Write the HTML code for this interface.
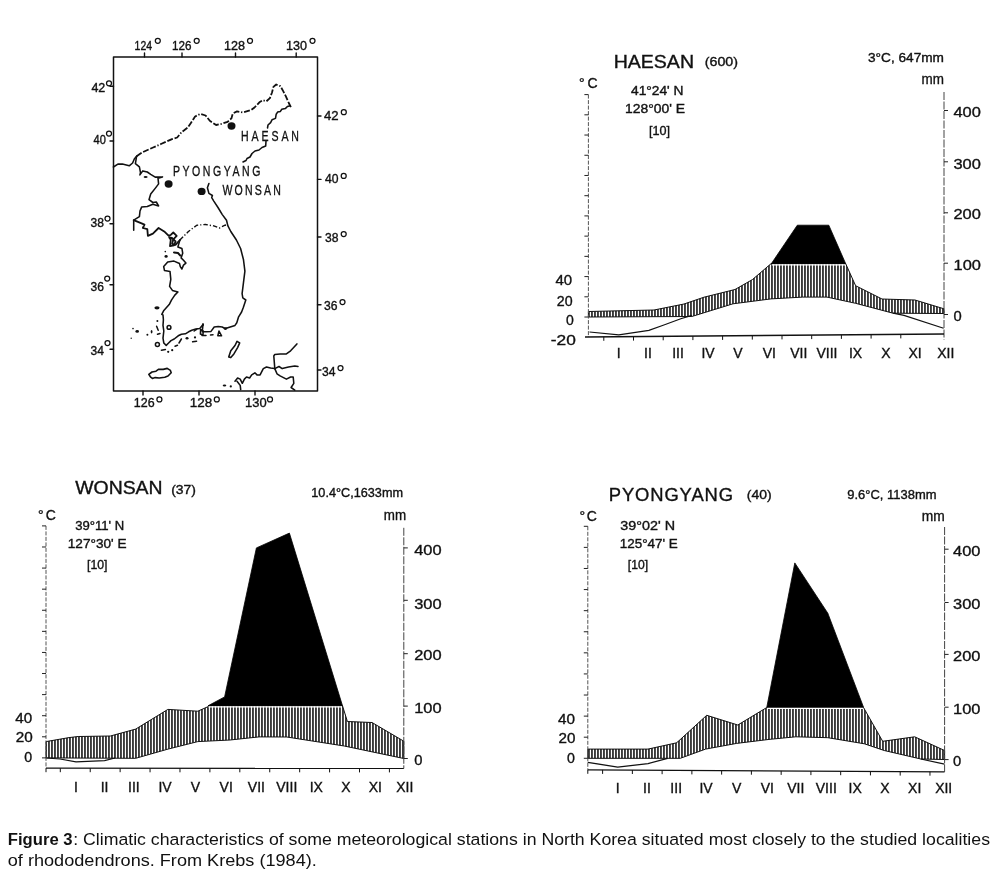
<!DOCTYPE html><html><head><meta charset="utf-8"><title>Figure 3</title><style>html,body{margin:0;padding:0;background:#fff;width:1000px;height:885px;overflow:hidden}svg{display:block;will-change:transform}text{font-family:"Liberation Sans",sans-serif;fill:#111}.ct text{stroke:#111;stroke-width:0.35px}</style></head><body>
<svg width="1000" height="885" viewBox="0 0 1000 885">
<defs><pattern id="hatch" patternUnits="userSpaceOnUse" width="3" height="10"><rect x="0" y="0" width="1.9" height="10" fill="#3a3a3a"/></pattern></defs>
<rect width="1000" height="885" fill="#fff"/>
<g id="map" fill="none" stroke="#111" stroke-width="1.4" stroke-linejoin="round" stroke-linecap="round">
<rect x="113.5" y="57" width="204" height="334" stroke-width="1.5"/>
<line x1="144.5" y1="53" x2="144.5" y2="57"/>
<line x1="182" y1="53" x2="182" y2="57"/>
<line x1="235.5" y1="53" x2="235.5" y2="57"/>
<line x1="296.2" y1="53" x2="296.2" y2="57"/>
<line x1="143" y1="391" x2="143" y2="395"/>
<line x1="199" y1="391" x2="199" y2="395"/>
<line x1="255" y1="391" x2="255" y2="395"/>
<line x1="110" y1="86.3" x2="113.5" y2="86.3"/>
<line x1="110" y1="141" x2="113.5" y2="141"/>
<line x1="110" y1="223.8" x2="113.5" y2="223.8"/>
<line x1="110" y1="284.8" x2="113.5" y2="284.8"/>
<line x1="110" y1="349.2" x2="113.5" y2="349.2"/>
<line x1="317.5" y1="116" x2="321" y2="116"/>
<line x1="317.5" y1="179.4" x2="321" y2="179.4"/>
<line x1="317.5" y1="237" x2="321" y2="237"/>
<line x1="317.5" y1="304.8" x2="321" y2="304.8"/>
<line x1="317.5" y1="370" x2="321" y2="370"/>
</g>
<g id="maplabels">
<text x="134.6" y="50" font-size="12" textLength="17.4" lengthAdjust="spacingAndGlyphs" stroke="#111" stroke-width="0.35">124</text>
<circle cx="157.8" cy="40.8" r="2.5" fill="none" stroke="#111" stroke-width="1.25"/>
<text x="172" y="50" font-size="12" textLength="19.5" lengthAdjust="spacingAndGlyphs" stroke="#111" stroke-width="0.35">126</text>
<circle cx="196.7" cy="40.8" r="2.5" fill="none" stroke="#111" stroke-width="1.25"/>
<text x="224" y="50" font-size="12" textLength="21" lengthAdjust="spacingAndGlyphs" stroke="#111" stroke-width="0.35">128</text>
<circle cx="250" cy="40.8" r="2.5" fill="none" stroke="#111" stroke-width="1.25"/>
<text x="286" y="50" font-size="12" textLength="21" lengthAdjust="spacingAndGlyphs" stroke="#111" stroke-width="0.35">130</text>
<circle cx="312.5" cy="40.8" r="2.5" fill="none" stroke="#111" stroke-width="1.25"/>
<text x="133.8" y="407" font-size="12" textLength="20.8" lengthAdjust="spacingAndGlyphs" stroke="#111" stroke-width="0.35">126</text>
<circle cx="159.4" cy="399.4" r="2.5" fill="none" stroke="#111" stroke-width="1.25"/>
<text x="189.8" y="407" font-size="12" textLength="22.4" lengthAdjust="spacingAndGlyphs" stroke="#111" stroke-width="0.35">128</text>
<circle cx="216.8" cy="399.4" r="2.5" fill="none" stroke="#111" stroke-width="1.25"/>
<text x="245" y="407" font-size="12" textLength="21.6" lengthAdjust="spacingAndGlyphs" stroke="#111" stroke-width="0.35">130</text>
<circle cx="270" cy="399.4" r="2.5" fill="none" stroke="#111" stroke-width="1.25"/>
<text x="91.4" y="91.5" font-size="12" textLength="13.9" lengthAdjust="spacingAndGlyphs" stroke="#111" stroke-width="0.35">42</text>
<circle cx="109" cy="83.3" r="2.5" fill="none" stroke="#111" stroke-width="1.25"/>
<text x="93.5" y="144" font-size="12" textLength="12.3" lengthAdjust="spacingAndGlyphs" stroke="#111" stroke-width="0.35">40</text>
<circle cx="109" cy="133.5" r="2.5" fill="none" stroke="#111" stroke-width="1.25"/>
<text x="90.6" y="226.7" font-size="12" textLength="13.4" lengthAdjust="spacingAndGlyphs" stroke="#111" stroke-width="0.35">38</text>
<circle cx="107.5" cy="218.5" r="2.5" fill="none" stroke="#111" stroke-width="1.25"/>
<text x="90.6" y="291" font-size="12" textLength="13.4" lengthAdjust="spacingAndGlyphs" stroke="#111" stroke-width="0.35">36</text>
<circle cx="107.2" cy="278.5" r="2.5" fill="none" stroke="#111" stroke-width="1.25"/>
<text x="90.6" y="355" font-size="12" textLength="13.4" lengthAdjust="spacingAndGlyphs" stroke="#111" stroke-width="0.35">34</text>
<circle cx="107.5" cy="343" r="2.5" fill="none" stroke="#111" stroke-width="1.25"/>
<text x="324" y="119.6" font-size="12" textLength="14.6" lengthAdjust="spacingAndGlyphs" stroke="#111" stroke-width="0.35">42</text>
<circle cx="343.8" cy="112.2" r="2.5" fill="none" stroke="#111" stroke-width="1.25"/>
<text x="325" y="183.3" font-size="12" textLength="13.5" lengthAdjust="spacingAndGlyphs" stroke="#111" stroke-width="0.35">40</text>
<circle cx="343.7" cy="175.9" r="2.5" fill="none" stroke="#111" stroke-width="1.25"/>
<text x="325" y="242" font-size="12" textLength="13.5" lengthAdjust="spacingAndGlyphs" stroke="#111" stroke-width="0.35">38</text>
<circle cx="343.7" cy="234" r="2.5" fill="none" stroke="#111" stroke-width="1.25"/>
<text x="324" y="309.6" font-size="12" textLength="13.5" lengthAdjust="spacingAndGlyphs" stroke="#111" stroke-width="0.35">36</text>
<circle cx="342.5" cy="302" r="2.5" fill="none" stroke="#111" stroke-width="1.25"/>
<text x="322" y="376" font-size="12" textLength="13.5" lengthAdjust="spacingAndGlyphs" stroke="#111" stroke-width="0.35">34</text>
<circle cx="340.5" cy="368" r="2.5" fill="none" stroke="#111" stroke-width="1.25"/>
</g>
<g id="mapnames" fill="#111">
<text transform="translate(241,141) scale(0.8,1.05)" x="0" y="0" font-size="13.2" textLength="72.5" lengthAdjust="spacing" stroke="#111" stroke-width="0.3">HAESAN</text>
<text transform="translate(173,176) scale(0.8,1.05)" x="0" y="0" font-size="13.2" textLength="109.2" lengthAdjust="spacing" stroke="#111" stroke-width="0.3">PYONGYANG</text>
<text transform="translate(222.4,194.6) scale(0.8,1.05)" x="0" y="0" font-size="13.2" textLength="73.2" lengthAdjust="spacing" stroke="#111" stroke-width="0.3">WONSAN</text>
</g>
<g fill="#111">
<ellipse cx="231.5" cy="126" rx="4" ry="3.7"/>
<ellipse cx="168.6" cy="184" rx="4" ry="3.7"/>
<ellipse cx="201.6" cy="191.4" rx="4" ry="3.7"/>
</g>
<g fill="none" stroke="#111" stroke-width="1.55" stroke-linejoin="round" stroke-linecap="round">
<path d="M113.4,167 L117.9,164.1 L122.4,164.1 L129.2,165.8 L132.6,163 L134.3,159 L136.6,156.2"/>
<path d="M136.6,156.2 L142.6,152.2 L153.1,147.5 L161.5,143.8 L172,139.1 L177.2,137.5 L181.4,132.3 L187.7,127.6 L190.9,122.9 L195.1,116.5 L200.3,113.9 L205.6,115.5 L209.8,120.8 L216.1,125 L221.3,123.9 L227.6,121.8 L231.4,118.4 L232.8,113.5 L237,111.4 L242.6,112.5 L251,110 L254.5,107.5 L259.4,102.3 L262.9,100.2 L266.4,101.3 L269.9,98.1 L272,92.5 L273.4,86.9 L276.2,84.5 L280.4,86.2 L283.2,91.1 L286,96.7 L288.8,103 L290.9,107.2" stroke-dasharray="6 1.8 6 1.8 6 1.8 1.3 1.8" stroke-width="1.8" stroke-linecap="butt"/>
<path d="M290.2,105.8 L287.4,106.5 L285.3,108.6 L281.8,109.3 L280.4,111.4 L277.6,112.1 L276.2,114.2 L275.5,118.4 L272,119.8 L270.6,122.6 L268,125 L267.5,128"/>
<path d="M266,141 L265.7,146 L262,147.5 L259,150 L255,151 L252,153.5 L250,157 L247,158.5 L246,160.5 L243,162"/>
<path d="M136.6,156.2 L135.4,163.6 L139.4,166.9 L140.5,172.6 L139.9,174.9 L142.8,170.9 L147.3,172 L150.7,174.3 L155.2,177.1 L159.7,177.1 L162.5,176.9 L158,178.2 L158.6,183.9 L155.2,188.4 L150.7,194.1 L149,199.7 L152.9,202.5 L156.3,202 L158.6,205.9 L152.9,204.2 L147.3,206.5 L141.6,207.1 L140,211 L139.4,216.7 L133.7,220.1 L133.7,230.2"/>
<path d="M133.7,220.1 L141.6,223.4 L144.5,224.6 L142.8,228 L147.3,229.1 L147.9,235.9 L152.9,233.6 L158.6,228 L164.2,231.4 L168.8,235.9 L171,234.7 L173.3,232.5 L176.7,235.9 L173.3,239.3 L172.1,243.8 L175.5,244.9 L179.9,240" stroke-width="1.8"/>
<path d="M179.9,240 L188.4,231.5 L196.8,225.2 L205.3,224.5 L213.8,225.9 L219.4,228 L225.1,225.2 L227.9,224.5" stroke-dasharray="4.5 2 1.2 2" stroke-linecap="butt" stroke-width="1.4"/>
<path d="M179.9,240 L177.9,246.9 L181.9,248.4 L182.7,253.2 L181.1,257.9 L183.5,260.3 L185.9,263.1 L183.5,265.1 L181.9,269 L180.3,266.6 L179.5,263.5 L174,261.1 L167.7,261.9 L163.7,266.6 L164.5,270.6 L170,271.4 L170.8,279.3 L169.6,286.4 L172.4,290.4 L177.9,292 L174.8,295.1 L171.6,299.9 L169.2,304.6 L163.6,310.8 L161.8,314.4 L163,315 L163.4,319.8 L163,325.4 L163.8,331 L163,338.2 L163.8,343 L166.2,345.4 L168.6,343 L171,340.6 L174.2,339 L178.2,335.8 L181.4,334.2 L185.4,333.8 L188.6,331.8 L191.8,330.2 L195.8,329 L199.8,328.6 L203,324.6 L202.2,331.8 L206.2,331.8 L211,331.4 L214.2,327 L218.2,326.6 L222.2,327 L225.4,328.6 L230.2,327 L235,325.4 L236.8,322.8 L238.6,316.8 L241.6,312 L243.4,307.2 L245.8,300 L242.8,297.9 L242.1,293.7 L243.5,282.4 L244.9,271.1 L243.5,259.8 L240.6,248.5 L236.4,240 L230.8,231.5 L227.9,225.9 L226.5,220.2 L222.3,214.6 L218,207.5 L213.8,201.1 L211.7,197.6 L212.4,195.5 L208.9,193.4 L207.4,187.7 L208.9,183.5"/>
<path d="M169.2,237.4 L170.8,239.7 L170,246.1 L174,245.3 L175.6,241.3 L172,238 Z" stroke-width="1.8"/>
<path d="M174,252.4 L178,253 L180.3,255.6" stroke-width="2"/>
<path d="M148.8,374.4 L152,372 L156,371.2 L158.8,369.2 L163.2,369.4 L167.2,368.4 L170.4,370.4 L171.2,372.8 L168,376 L164.8,377.2 L159.2,378 L155.2,377.6 L152.4,378.4 L150.4,376.8 Z" stroke-width="1.6"/>
<path d="M228.7,357 L230.8,350.8 L235,345.5 L237,341.3 L239.7,342.9 L237.6,347.6 L233.9,353.9 L230.8,357.6 Z"/>
<g stroke-width="1.5"><circle cx="157.4" cy="344.6" r="2"/><path d="M219,331 L221.6,335.8 L217.8,335.8 Z"/><path d="M200.6,329.4 L203.2,331 L203,335 L200.4,334 Z"/><circle cx="169" cy="327.4" r="1.9"/><path d="M161.4,350.2 L165.4,349.6 M175,346.2 L177.5,345.2 M179,343 L181.4,339 M192.6,341.8 L196.6,341.2 M202,335.4 L206,335.4 M210.5,335 L213,334.8 M194.2,331 L196.6,329.4 M156.6,326.2 L158.2,330.2 M157.5,334.2 L160,333.5"/></g>
<path d="M235,381.2 L237.6,378 L240.2,379.1 L242.3,383.3 L244.4,379.1 L246.5,377 L249.6,378 L251.7,374.9 L254.9,372.8 L257,374.9 L260.1,374.9 L263.3,368.6 L266.5,367 L270.6,368.1 L274.8,368.6 L279,366.5 L282.2,368.6 L288.5,367 L294.8,366 L298,366.5"/>
<path d="M274.8,368.6 L273.8,356 L274.8,354.4 L280.1,353.9 L286.4,353.9 L290.6,350.8 L296.9,343.9"/>
<path d="M274.8,368.6 L277,373.8 L280.1,375.9 L286.4,379.1 L290.6,377 L293.2,377 L293.8,383.3 L291.1,387.5 L294.8,390.1"/>
<path d="M237,381.2 L240.2,385.4 L240.7,389.6"/>
</g>
<g fill="#111">
<ellipse cx="145.6" cy="176.9" rx="2" ry="1"/>
<ellipse cx="166.1" cy="256.4" rx="1.6" ry="1.4"/>
<ellipse cx="165.3" cy="251.6" rx="0.8" ry="0.8"/>
<ellipse cx="157" cy="307.8" rx="2.6" ry="1.6"/>
<ellipse cx="137.2" cy="331.4" rx="1.8" ry="1.3"/>
<ellipse cx="133" cy="328.6" rx="0.8" ry="0.8"/>
<ellipse cx="131.2" cy="338.2" rx="0.7" ry="0.7"/>
<ellipse cx="147.4" cy="334.8" rx="1" ry="1"/>
<ellipse cx="151.6" cy="331.8" rx="0.9" ry="1.8"/>
<ellipse cx="157.4" cy="321" rx="1" ry="1"/>
<ellipse cx="168.2" cy="351.8" rx="1.1" ry="1.1"/>
<ellipse cx="172.2" cy="350.2" rx="1.1" ry="1.1"/>
<ellipse cx="187" cy="338.2" rx="1.5" ry="1.3"/>
<ellipse cx="195" cy="337.4" rx="1.1" ry="1.1"/>
<ellipse cx="225.4" cy="328.6" rx="1.8" ry="1.4"/>
<ellipse cx="224.5" cy="385.4" rx="1.8" ry="1"/>
<ellipse cx="230.8" cy="386.4" rx="1.1" ry="1.1"/>
<ellipse cx="203" cy="324.6" rx="1" ry="1.5"/>
</g>
<g id="haesan">
<polygon points="588.4,311.5 654,310 684,304 704,297.2 735,289.5 752.4,279.6 771,263.7 845.7,263.7 855.6,285.7 882,299 915,300 944,308.8 944,313.5 893,313.2 855.6,303.3 827,297.1 802.8,297.1 771,298.9 733,303.8 691.8,316.5 588.4,317" fill="url(#hatch)" stroke="#111" stroke-width="1"/>
<polygon points="771.3,263.7 797.3,225.2 828.8,225.2 845.7,263.7" fill="#000" stroke="#000" stroke-width="0.8"/>
<line x1="771.8" y1="264.8" x2="845.2" y2="264.8" stroke="#fff" stroke-width="1.3"/>
<polyline points="589.5,332 618.8,334.8 648.9,330.4 663.2,325.3 680.8,318.7 691.8,315.4" fill="none" stroke="#111" stroke-width="1.2"/>
<polyline points="893,313.2 904,315.4 943.6,328.2" fill="none" stroke="#111" stroke-width="1.2"/>
<line x1="588.4" y1="94.6" x2="588.4" y2="337" stroke="#555" stroke-width="1" stroke-dasharray="4 1.5"/>
<line x1="584.4" y1="94.6" x2="588.4" y2="94.6" stroke="#222" stroke-width="1"/>
<line x1="584.4" y1="114.82" x2="588.4" y2="114.82" stroke="#222" stroke-width="1"/>
<line x1="584.4" y1="135.04" x2="588.4" y2="135.04" stroke="#222" stroke-width="1"/>
<line x1="584.4" y1="155.26" x2="588.4" y2="155.26" stroke="#222" stroke-width="1"/>
<line x1="584.4" y1="175.48" x2="588.4" y2="175.48" stroke="#222" stroke-width="1"/>
<line x1="584.4" y1="195.7" x2="588.4" y2="195.7" stroke="#222" stroke-width="1"/>
<line x1="584.4" y1="215.92" x2="588.4" y2="215.92" stroke="#222" stroke-width="1"/>
<line x1="584.4" y1="236.14" x2="588.4" y2="236.14" stroke="#222" stroke-width="1"/>
<line x1="584.4" y1="256.36" x2="588.4" y2="256.36" stroke="#222" stroke-width="1"/>
<line x1="584.4" y1="276.58" x2="588.4" y2="276.58" stroke="#222" stroke-width="1"/>
<line x1="584.4" y1="296.79999999999995" x2="588.4" y2="296.79999999999995" stroke="#222" stroke-width="1"/>
<line x1="584.4" y1="317.02" x2="588.4" y2="317.02" stroke="#222" stroke-width="1"/>
<line x1="944" y1="92" x2="944" y2="339.5" stroke="#444" stroke-width="1" stroke-dasharray="8 1.5"/>
<line x1="944" y1="110.5" x2="948" y2="110.5" stroke="#222" stroke-width="1"/>
<line x1="944" y1="161.8" x2="948" y2="161.8" stroke="#222" stroke-width="1"/>
<line x1="944" y1="212.8" x2="948" y2="212.8" stroke="#222" stroke-width="1"/>
<line x1="944" y1="263.2" x2="948" y2="263.2" stroke="#222" stroke-width="1"/>
<line x1="944" y1="314.5" x2="948" y2="314.5" stroke="#222" stroke-width="1"/>
<line x1="585" y1="337" x2="944" y2="334" stroke="#111" stroke-width="1.3"/>
<line x1="603.8" y1="336.8" x2="603.8" y2="340.8" stroke="#111" stroke-width="1"/>
<line x1="633.5" y1="336.6" x2="633.5" y2="340.6" stroke="#111" stroke-width="1"/>
<line x1="663.1999999999999" y1="336.3" x2="663.1999999999999" y2="340.3" stroke="#111" stroke-width="1"/>
<line x1="692.9" y1="336.1" x2="692.9" y2="340.1" stroke="#111" stroke-width="1"/>
<line x1="722.5999999999999" y1="335.9" x2="722.5999999999999" y2="339.9" stroke="#111" stroke-width="1"/>
<line x1="752.3" y1="335.6" x2="752.3" y2="339.6" stroke="#111" stroke-width="1"/>
<line x1="782.0" y1="335.4" x2="782.0" y2="339.4" stroke="#111" stroke-width="1"/>
<line x1="811.6999999999999" y1="335.1" x2="811.6999999999999" y2="339.1" stroke="#111" stroke-width="1"/>
<line x1="841.4" y1="334.9" x2="841.4" y2="338.9" stroke="#111" stroke-width="1"/>
<line x1="871.0999999999999" y1="334.6" x2="871.0999999999999" y2="338.6" stroke="#111" stroke-width="1"/>
<line x1="900.8" y1="334.4" x2="900.8" y2="338.4" stroke="#111" stroke-width="1"/>
</g>
<g class="ct">
<text x="613.7" y="67.5" font-size="17.5" textLength="80.3" lengthAdjust="spacingAndGlyphs" >HAESAN</text>
<text x="704.75" y="66" font-size="12.5" textLength="33.25" lengthAdjust="spacingAndGlyphs" >(600)</text>
<text x="868" y="62.4" font-size="12" textLength="76" lengthAdjust="spacingAndGlyphs" >3°C, 647mm</text>
<text x="921.6" y="84" font-size="14" textLength="22.4" lengthAdjust="spacingAndGlyphs" >mm</text>
<text x="579" y="88.4" font-size="14" textLength="18.6" lengthAdjust="spacing" >°C</text>
<text x="631" y="95" font-size="12" textLength="52.5" lengthAdjust="spacingAndGlyphs" >41°24' N</text>
<text x="625" y="112.6" font-size="12" textLength="60" lengthAdjust="spacingAndGlyphs" >128°00' E</text>
<text x="649" y="134.5" font-size="12" textLength="21" lengthAdjust="spacingAndGlyphs" >[10]</text>
<text x="555.4" y="285.3" font-size="14" textLength="16.7" lengthAdjust="spacingAndGlyphs" >40</text>
<text x="556.8" y="305.7" font-size="14" textLength="15.8" lengthAdjust="spacingAndGlyphs" >20</text>
<text x="566" y="324.6" font-size="14" textLength="7.8" lengthAdjust="spacingAndGlyphs" >0</text>
<text x="550.8" y="344.9" font-size="14" textLength="25.0" lengthAdjust="spacingAndGlyphs" >-20</text>
<text x="953.4" y="117.4" font-size="14.3" textLength="27.4" lengthAdjust="spacingAndGlyphs" >400</text>
<text x="953.4" y="168.5" font-size="14.3" textLength="27.4" lengthAdjust="spacingAndGlyphs" >300</text>
<text x="953.4" y="219.4" font-size="14.3" textLength="27.4" lengthAdjust="spacingAndGlyphs" >200</text>
<text x="953.6" y="269.9" font-size="14.3" textLength="27.4" lengthAdjust="spacingAndGlyphs" >100</text>
<text x="953.4" y="321.2" font-size="14.3" textLength="8.2" lengthAdjust="spacingAndGlyphs" >0</text>
<text x="618.8" y="358" font-size="14" text-anchor="middle" >I</text>
<text x="648" y="358" font-size="14" text-anchor="middle" >II</text>
<text x="678" y="358" font-size="14" text-anchor="middle" >III</text>
<text x="708" y="358" font-size="14" text-anchor="middle" >IV</text>
<text x="738" y="358" font-size="14" text-anchor="middle" >V</text>
<text x="769.4" y="358" font-size="14" text-anchor="middle" >VI</text>
<text x="798.8" y="358" font-size="14" text-anchor="middle" >VII</text>
<text x="827" y="358" font-size="14" text-anchor="middle" >VIII</text>
<text x="855.6" y="358" font-size="14" text-anchor="middle" >IX</text>
<text x="886" y="358" font-size="14" text-anchor="middle" >X</text>
<text x="915" y="358" font-size="14" text-anchor="middle" >XI</text>
<text x="945.8" y="358" font-size="14" text-anchor="middle" >XII</text>
</g>
<g id="wonsan">
<polygon points="46,741.6 69,737.6 78.2,736.5 110.4,736 135.7,729.1 167.9,709.4 197.8,711.2 210.4,705.6 342.5,705.8 347.4,721.5 372,722.5 403.8,741.2 403.8,758.5 344.2,746 286.8,737 259,736.9 230,740 197.8,741.6 168,749.1 135.7,758.3 46,757.9" fill="url(#hatch)" stroke="#111" stroke-width="1"/>
<polygon points="208,705.8 224.6,696.9 256.4,547.9 289.4,533.1 342.5,705.8" fill="#000" stroke="#000" stroke-width="0.8"/>
<line x1="208.5" y1="706.9" x2="342.0" y2="706.9" stroke="#fff" stroke-width="1.3"/>
<polyline points="46,758 60,759 76,761.8 104.6,760.6 115,758" fill="none" stroke="#111" stroke-width="1.2"/>
<line x1="46" y1="525.9" x2="46" y2="768.2" stroke="#555" stroke-width="1" stroke-dasharray="4 1.5"/>
<line x1="42" y1="525.9" x2="46" y2="525.9" stroke="#222" stroke-width="1"/>
<line x1="42" y1="546.99" x2="46" y2="546.99" stroke="#222" stroke-width="1"/>
<line x1="42" y1="568.0799999999999" x2="46" y2="568.0799999999999" stroke="#222" stroke-width="1"/>
<line x1="42" y1="589.17" x2="46" y2="589.17" stroke="#222" stroke-width="1"/>
<line x1="42" y1="610.26" x2="46" y2="610.26" stroke="#222" stroke-width="1"/>
<line x1="42" y1="631.35" x2="46" y2="631.35" stroke="#222" stroke-width="1"/>
<line x1="42" y1="652.4399999999999" x2="46" y2="652.4399999999999" stroke="#222" stroke-width="1"/>
<line x1="42" y1="673.53" x2="46" y2="673.53" stroke="#222" stroke-width="1"/>
<line x1="42" y1="694.62" x2="46" y2="694.62" stroke="#222" stroke-width="1"/>
<line x1="42" y1="715.71" x2="46" y2="715.71" stroke="#222" stroke-width="1"/>
<line x1="42" y1="736.8" x2="46" y2="736.8" stroke="#222" stroke-width="1"/>
<line x1="42" y1="757.89" x2="46" y2="757.89" stroke="#222" stroke-width="1"/>
<line x1="403.8" y1="527.8" x2="403.8" y2="768.4" stroke="#444" stroke-width="1" stroke-dasharray="8 1.5"/>
<line x1="403.8" y1="547.9" x2="407.8" y2="547.9" stroke="#222" stroke-width="1"/>
<line x1="403.8" y1="600.3" x2="407.8" y2="600.3" stroke="#222" stroke-width="1"/>
<line x1="403.8" y1="653.7" x2="407.8" y2="653.7" stroke="#222" stroke-width="1"/>
<line x1="403.8" y1="706.1" x2="407.8" y2="706.1" stroke="#222" stroke-width="1"/>
<line x1="403.8" y1="758.5" x2="407.8" y2="758.5" stroke="#222" stroke-width="1"/>
<line x1="46" y1="768.2" x2="403.8" y2="768.4" stroke="#111" stroke-width="1.3"/>
<line x1="46" y1="768.2" x2="46" y2="772.2" stroke="#111" stroke-width="1"/>
<line x1="60.3" y1="768.2" x2="60.3" y2="772.2" stroke="#111" stroke-width="1"/>
<line x1="90.22" y1="768.2" x2="90.22" y2="772.2" stroke="#111" stroke-width="1"/>
<line x1="120.14" y1="768.2" x2="120.14" y2="772.2" stroke="#111" stroke-width="1"/>
<line x1="150.06" y1="768.3" x2="150.06" y2="772.3" stroke="#111" stroke-width="1"/>
<line x1="179.98000000000002" y1="768.3" x2="179.98000000000002" y2="772.3" stroke="#111" stroke-width="1"/>
<line x1="209.90000000000003" y1="768.3" x2="209.90000000000003" y2="772.3" stroke="#111" stroke-width="1"/>
<line x1="239.82" y1="768.3" x2="239.82" y2="772.3" stroke="#111" stroke-width="1"/>
<line x1="269.74" y1="768.3" x2="269.74" y2="772.3" stroke="#111" stroke-width="1"/>
<line x1="299.66" y1="768.3" x2="299.66" y2="772.3" stroke="#111" stroke-width="1"/>
<line x1="329.58000000000004" y1="768.4" x2="329.58000000000004" y2="772.4" stroke="#111" stroke-width="1"/>
<line x1="359.50000000000006" y1="768.4" x2="359.50000000000006" y2="772.4" stroke="#111" stroke-width="1"/>
<line x1="389.42" y1="768.4" x2="389.42" y2="772.4" stroke="#111" stroke-width="1"/>
</g>
<g class="ct">
<text x="75.2" y="493.7" font-size="18" textLength="87.4" lengthAdjust="spacingAndGlyphs" >WONSAN</text>
<text x="171.2" y="494.4" font-size="12" textLength="24.8" lengthAdjust="spacingAndGlyphs" >(37)</text>
<text x="311.3" y="496.9" font-size="12" textLength="91.7" lengthAdjust="spacingAndGlyphs" >10.4°C,1633mm</text>
<text x="383.8" y="520.2" font-size="14" textLength="22.3" lengthAdjust="spacingAndGlyphs" >mm</text>
<text x="38" y="520" font-size="14" textLength="17.9" lengthAdjust="spacing" >°C</text>
<text x="75.2" y="529.8" font-size="12" textLength="49" lengthAdjust="spacingAndGlyphs" >39°11' N</text>
<text x="67.8" y="548.2" font-size="12" textLength="58.7" lengthAdjust="spacingAndGlyphs" >127°30' E</text>
<text x="87" y="568.5" font-size="12" textLength="20.4" lengthAdjust="spacingAndGlyphs" >[10]</text>
<text x="15.2" y="723.2" font-size="14" textLength="16.9" lengthAdjust="spacingAndGlyphs" >40</text>
<text x="15.7" y="741.8" font-size="14" textLength="17.0" lengthAdjust="spacingAndGlyphs" >20</text>
<text x="24.2" y="761.9" font-size="14" textLength="7.9" lengthAdjust="spacingAndGlyphs" >0</text>
<text x="414.2" y="555.1" font-size="14.3" textLength="27.4" lengthAdjust="spacingAndGlyphs" >400</text>
<text x="414.2" y="608.9" font-size="14.3" textLength="27.4" lengthAdjust="spacingAndGlyphs" >300</text>
<text x="414.2" y="660.4" font-size="14.3" textLength="27.4" lengthAdjust="spacingAndGlyphs" >200</text>
<text x="414.2" y="712.8" font-size="14.3" textLength="27.4" lengthAdjust="spacingAndGlyphs" >100</text>
<text x="414.2" y="765.2" font-size="14.3" textLength="8.2" lengthAdjust="spacingAndGlyphs" >0</text>
<text x="75.9" y="791.5" font-size="14" text-anchor="middle" >I</text>
<text x="104.6" y="791.5" font-size="14" text-anchor="middle" >II</text>
<text x="133.9" y="791.5" font-size="14" text-anchor="middle" >III</text>
<text x="165.1" y="791.5" font-size="14" text-anchor="middle" >IV</text>
<text x="195.5" y="791.5" font-size="14" text-anchor="middle" >V</text>
<text x="226.2" y="791.5" font-size="14" text-anchor="middle" >VI</text>
<text x="256.4" y="791.5" font-size="14" text-anchor="middle" >VII</text>
<text x="286.8" y="791.5" font-size="14" text-anchor="middle" >VIII</text>
<text x="316.3" y="791.5" font-size="14" text-anchor="middle" >IX</text>
<text x="345.8" y="791.5" font-size="14" text-anchor="middle" >X</text>
<text x="375.3" y="791.5" font-size="14" text-anchor="middle" >XI</text>
<text x="404.8" y="791.5" font-size="14" text-anchor="middle" >XII</text>
</g>
<g id="pyong">
<polygon points="587.8,749.1 648,749.1 676.2,742.9 678,741.6 706.7,715.3 737.8,725 766.8,707.5 863.5,707.5 882.7,741.3 914.7,736.8 944.6,750.5 944.6,759.5 920.8,759 884.2,750.5 864.4,743.8 827.8,737.7 795.8,736.8 770,739.3 736.6,743.4 705.6,749.1 680.3,758.3 587.8,758.3" fill="url(#hatch)" stroke="#111" stroke-width="1"/>
<polygon points="766.8,707.2 794.8,562.9 827.8,613.2 863.5,707.2" fill="#000" stroke="#000" stroke-width="0.8"/>
<line x1="767.3" y1="708.3000000000001" x2="863.0" y2="708.3000000000001" stroke="#fff" stroke-width="1.3"/>
<polyline points="587.8,762.3 617.7,767.1 648,763.6 667.6,758.3" fill="none" stroke="#111" stroke-width="1.2"/>
<polyline points="920.8,759 944.6,764.2" fill="none" stroke="#111" stroke-width="1.2"/>
<line x1="587.8" y1="526.3" x2="587.8" y2="769.8" stroke="#555" stroke-width="1" stroke-dasharray="4 1.5"/>
<line x1="583.8" y1="526.3" x2="587.8" y2="526.3" stroke="#222" stroke-width="1"/>
<line x1="583.8" y1="547.39" x2="587.8" y2="547.39" stroke="#222" stroke-width="1"/>
<line x1="583.8" y1="568.4799999999999" x2="587.8" y2="568.4799999999999" stroke="#222" stroke-width="1"/>
<line x1="583.8" y1="589.5699999999999" x2="587.8" y2="589.5699999999999" stroke="#222" stroke-width="1"/>
<line x1="583.8" y1="610.66" x2="587.8" y2="610.66" stroke="#222" stroke-width="1"/>
<line x1="583.8" y1="631.75" x2="587.8" y2="631.75" stroke="#222" stroke-width="1"/>
<line x1="583.8" y1="652.8399999999999" x2="587.8" y2="652.8399999999999" stroke="#222" stroke-width="1"/>
<line x1="583.8" y1="673.93" x2="587.8" y2="673.93" stroke="#222" stroke-width="1"/>
<line x1="583.8" y1="695.02" x2="587.8" y2="695.02" stroke="#222" stroke-width="1"/>
<line x1="583.8" y1="716.1099999999999" x2="587.8" y2="716.1099999999999" stroke="#222" stroke-width="1"/>
<line x1="583.8" y1="737.1999999999999" x2="587.8" y2="737.1999999999999" stroke="#222" stroke-width="1"/>
<line x1="583.8" y1="758.29" x2="587.8" y2="758.29" stroke="#222" stroke-width="1"/>
<line x1="944.6" y1="527" x2="944.6" y2="771.8" stroke="#444" stroke-width="1" stroke-dasharray="8 1.5"/>
<line x1="944.6" y1="549.2" x2="948.6" y2="549.2" stroke="#222" stroke-width="1"/>
<line x1="944.6" y1="602.5" x2="948.6" y2="602.5" stroke="#222" stroke-width="1"/>
<line x1="944.6" y1="654.4" x2="948.6" y2="654.4" stroke="#222" stroke-width="1"/>
<line x1="944.6" y1="707.2" x2="948.6" y2="707.2" stroke="#222" stroke-width="1"/>
<line x1="944.6" y1="759.6" x2="948.6" y2="759.6" stroke="#222" stroke-width="1"/>
<line x1="587.8" y1="769.8" x2="944.6" y2="771.8" stroke="#111" stroke-width="1.3"/>
<line x1="587.8" y1="769.8" x2="587.8" y2="773.8" stroke="#111" stroke-width="1"/>
<line x1="602.6" y1="769.9" x2="602.6" y2="773.9" stroke="#111" stroke-width="1"/>
<line x1="632.36" y1="770.0" x2="632.36" y2="774.0" stroke="#111" stroke-width="1"/>
<line x1="662.12" y1="770.2" x2="662.12" y2="774.2" stroke="#111" stroke-width="1"/>
<line x1="691.88" y1="770.4" x2="691.88" y2="774.4" stroke="#111" stroke-width="1"/>
<line x1="721.64" y1="770.6" x2="721.64" y2="774.6" stroke="#111" stroke-width="1"/>
<line x1="751.4000000000001" y1="770.7" x2="751.4000000000001" y2="774.7" stroke="#111" stroke-width="1"/>
<line x1="781.1600000000001" y1="770.9" x2="781.1600000000001" y2="774.9" stroke="#111" stroke-width="1"/>
<line x1="810.9200000000001" y1="771.1" x2="810.9200000000001" y2="775.1" stroke="#111" stroke-width="1"/>
<line x1="840.6800000000001" y1="771.2" x2="840.6800000000001" y2="775.2" stroke="#111" stroke-width="1"/>
<line x1="870.44" y1="771.4" x2="870.44" y2="775.4" stroke="#111" stroke-width="1"/>
<line x1="900.2" y1="771.6" x2="900.2" y2="775.6" stroke="#111" stroke-width="1"/>
<line x1="929.96" y1="771.7" x2="929.96" y2="775.7" stroke="#111" stroke-width="1"/>
</g>
<g class="ct">
<text x="608.8" y="500.6" font-size="18.4" textLength="124.2" lengthAdjust="spacing" >PYONGYANG</text>
<text x="746.8" y="499.2" font-size="12" textLength="24.8" lengthAdjust="spacingAndGlyphs" >(40)</text>
<text x="847.3" y="498.5" font-size="12" textLength="89.2" lengthAdjust="spacingAndGlyphs" >9.6°C, 1138mm</text>
<text x="921.8" y="520.6" font-size="14" textLength="23" lengthAdjust="spacingAndGlyphs" >mm</text>
<text x="579.5" y="520.5" font-size="14" textLength="17.3" lengthAdjust="spacing" >°C</text>
<text x="620.3" y="530.3" font-size="12" textLength="54.7" lengthAdjust="spacingAndGlyphs" >39°02' N</text>
<text x="619.8" y="548.2" font-size="12" textLength="58" lengthAdjust="spacingAndGlyphs" >125°47' E</text>
<text x="627.8" y="568.5" font-size="12" textLength="20.2" lengthAdjust="spacingAndGlyphs" >[10]</text>
<text x="557.9" y="723.7" font-size="14" textLength="17.0" lengthAdjust="spacingAndGlyphs" >40</text>
<text x="558.5" y="742.9" font-size="14" textLength="16.9" lengthAdjust="spacingAndGlyphs" >20</text>
<text x="567" y="763.3" font-size="14" textLength="7.9" lengthAdjust="spacingAndGlyphs" >0</text>
<text x="953" y="555.9" font-size="14.3" textLength="27.4" lengthAdjust="spacingAndGlyphs" >400</text>
<text x="953" y="609.2" font-size="14.3" textLength="27.4" lengthAdjust="spacingAndGlyphs" >300</text>
<text x="953" y="661.1" font-size="14.3" textLength="27.4" lengthAdjust="spacingAndGlyphs" >200</text>
<text x="953" y="713.9" font-size="14.3" textLength="27.4" lengthAdjust="spacingAndGlyphs" >100</text>
<text x="953" y="766.3" font-size="14.3" textLength="8.2" lengthAdjust="spacingAndGlyphs" >0</text>
<text x="617.7" y="793" font-size="14" text-anchor="middle" >I</text>
<text x="647" y="793" font-size="14" text-anchor="middle" >II</text>
<text x="676.2" y="793" font-size="14" text-anchor="middle" >III</text>
<text x="706" y="793" font-size="14" text-anchor="middle" >IV</text>
<text x="736.6" y="793" font-size="14" text-anchor="middle" >V</text>
<text x="767.4" y="793" font-size="14" text-anchor="middle" >VI</text>
<text x="795.8" y="793" font-size="14" text-anchor="middle" >VII</text>
<text x="826.3" y="793" font-size="14" text-anchor="middle" >VIII</text>
<text x="855.2" y="793" font-size="14" text-anchor="middle" >IX</text>
<text x="884.8" y="793" font-size="14" text-anchor="middle" >X</text>
<text x="914.7" y="793" font-size="14" text-anchor="middle" >XI</text>
<text x="943.7" y="793" font-size="14" text-anchor="middle" >XII</text>
</g>
<text x="7.8" y="844.5" font-size="17.2" font-weight="bold" textLength="64.8" lengthAdjust="spacingAndGlyphs" fill="#1e1e1e">Figure 3</text>
<text x="73.2" y="844.5" font-size="17.2" textLength="916.8" lengthAdjust="spacingAndGlyphs" fill="#222">: Climatic characteristics of some meteorological stations in North Korea situated most closely to the studied localities</text>
<text x="7.8" y="865.5" font-size="17.2" textLength="309" lengthAdjust="spacingAndGlyphs" fill="#222">of rhododendrons. From Krebs (1984).</text>
</svg></body></html>
